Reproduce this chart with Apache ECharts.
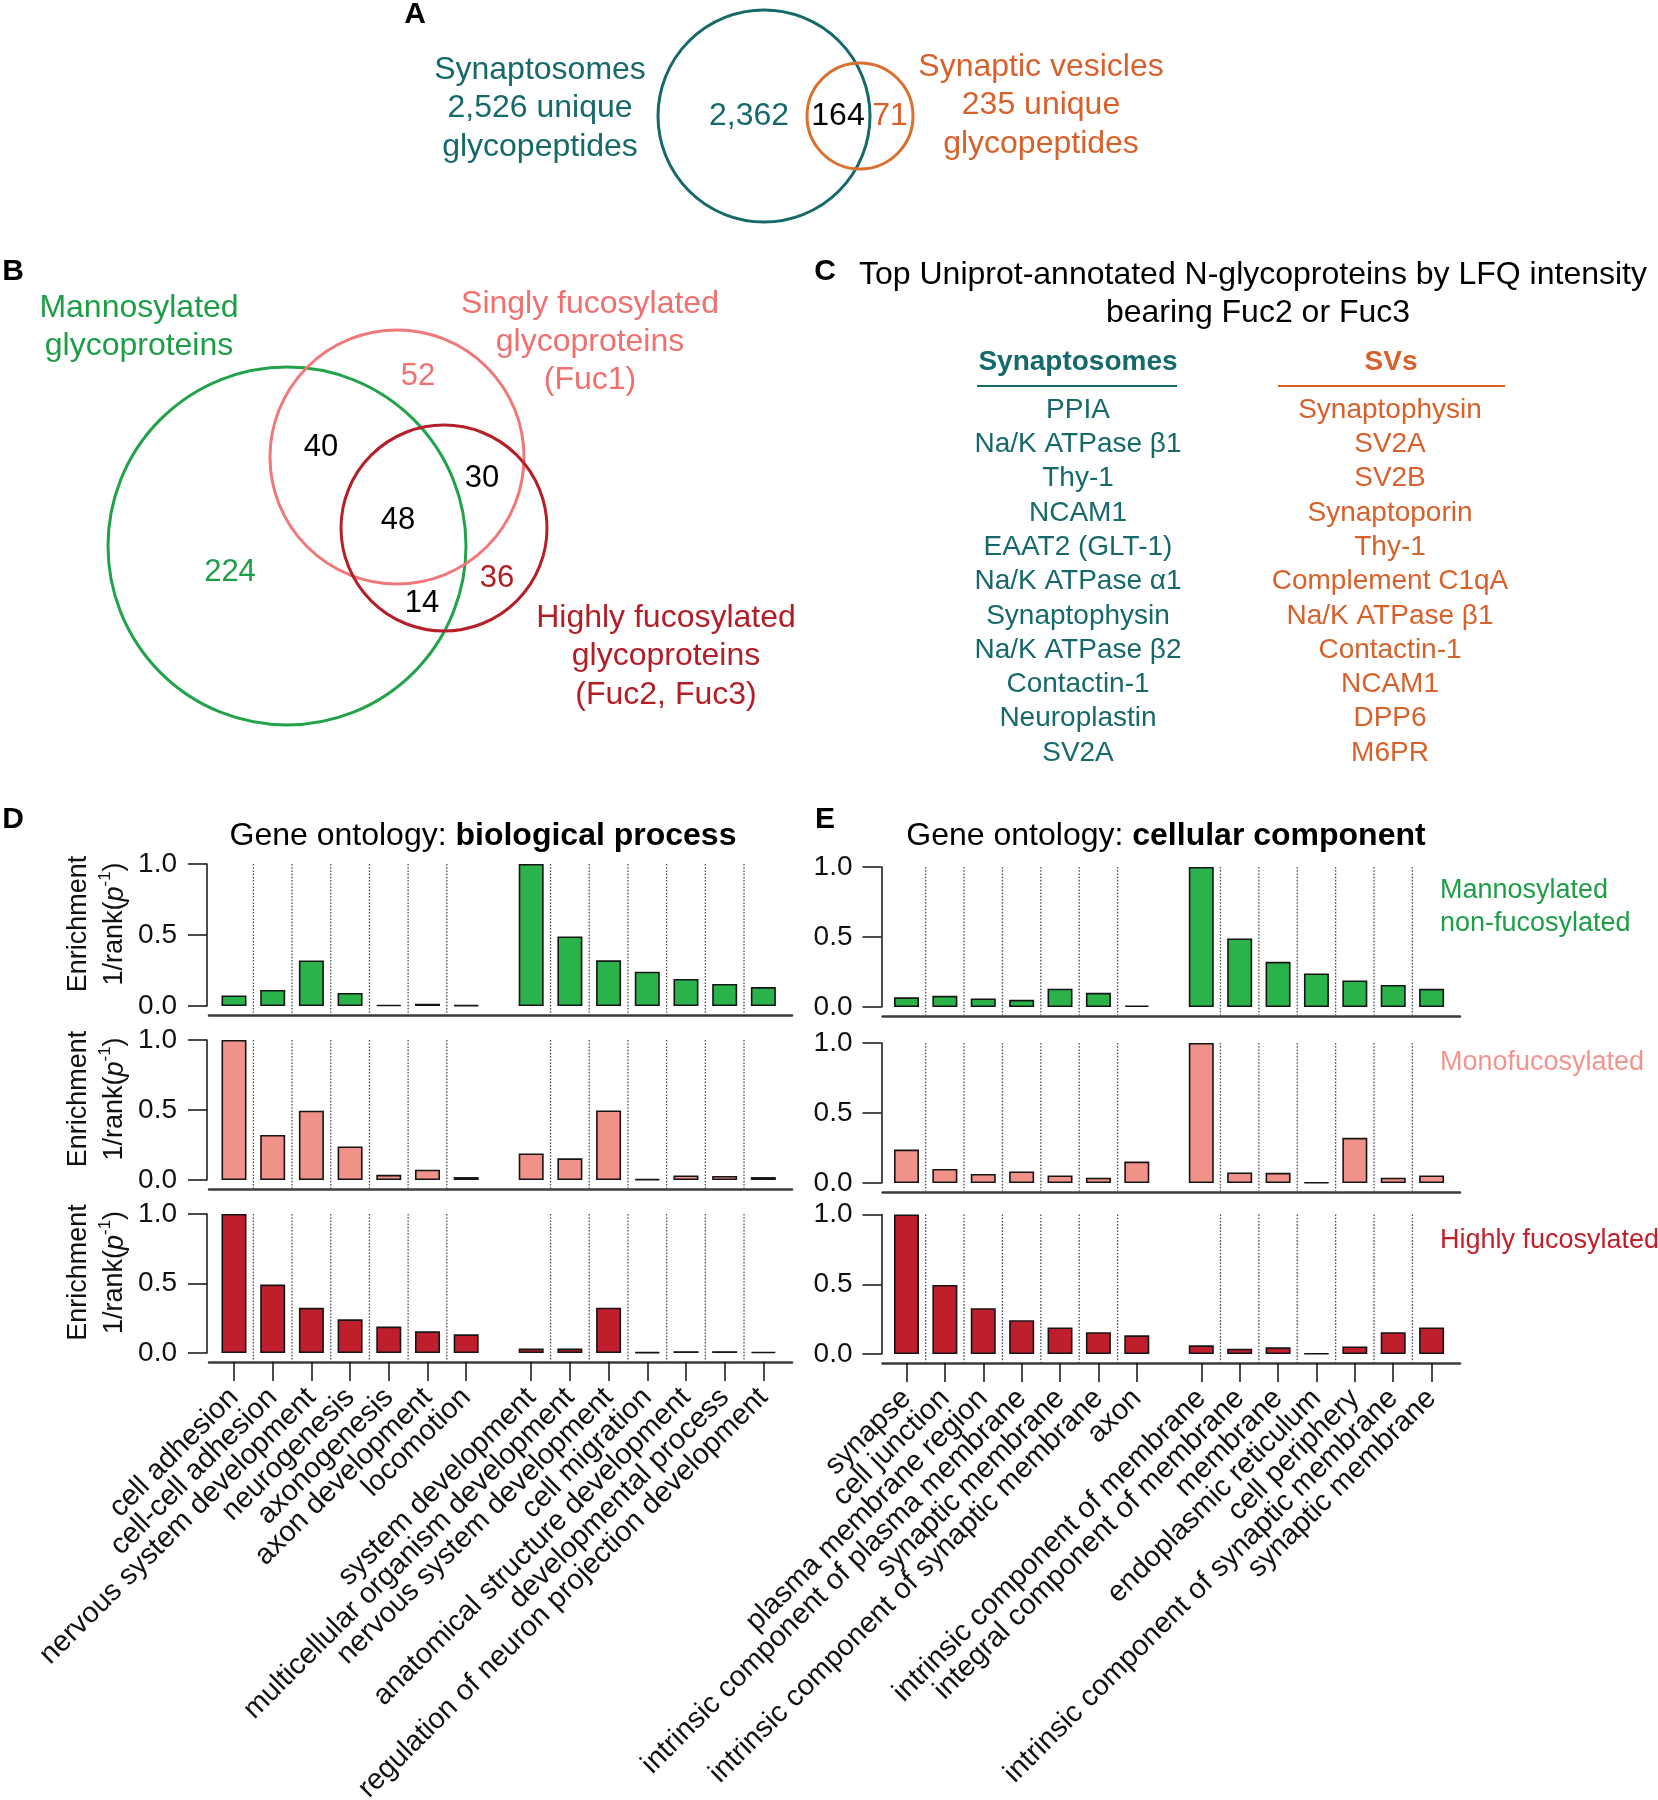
<!DOCTYPE html>
<html><head><meta charset="utf-8">
<script src="https://cdn.jsdelivr.net/npm/echarts@6/dist/echarts.min.js"></script>
<style>html,body{margin:0;padding:0;background:#fff}#c{width:1658px;height:1800px}</style>
</head><body><div id="c"></div>
<script>
// ---------------- DATA ----------------
const vennASetNames = ['Synaptosomes', 'Synaptic vesicles'];
const vennASetTotals = [2526, 235];
const vennARegionCounts = [2362, 164, 71]; // syn only, both, SV only

const vennBSetNames = [['Mannosylated', 'glycoproteins'], ['Singly fucosylated', 'glycoproteins', '(Fuc1)'], ['Highly fucosylated', 'glycoproteins', '(Fuc2, Fuc3)']];
// regions: M only, F1 only, F23 only, M∩F1, F1∩F23, M∩F1∩F23, M∩F23
const vennBRegionCounts = [224, 52, 36, 40, 30, 48, 14];

const panelCTitle = ['Top Uniprot-annotated N-glycoproteins by LFQ intensity', 'bearing Fuc2 or Fuc3'];
const synaptosomeProteins = ['PPIA', 'Na/K ATPase \u03b21', 'Thy-1', 'NCAM1', 'EAAT2 (GLT-1)', 'Na/K ATPase \u03b11', 'Synaptophysin', 'Na/K ATPase \u03b22', 'Contactin-1', 'Neuroplastin', 'SV2A'];
const svProteins = ['Synaptophysin', 'SV2A', 'SV2B', 'Synaptoporin', 'Thy-1', 'Complement C1qA', 'Na/K ATPase \u03b21', 'Contactin-1', 'NCAM1', 'DPP6', 'M6PR'];

const groupSizes = [7, 7];
const bpCategories = ['cell adhesion', 'cell-cell adhesion', 'nervous system development', 'neurogenesis', 'axonogenesis', 'axon development', 'locomotion',
  'system development', 'multicellular organism development', 'nervous system development', 'cell migration', 'anatomical structure development', 'developmental process', 'regulation of neuron projection development'];
const bpMannosylated = [0.074, 0.113, 0.321, 0.092, 0.006, 0.016, 0.005, 1.0, 0.49, 0.322, 0.242, 0.19, 0.155, 0.133];
const bpMonofucosylated = [1.0, 0.322, 0.495, 0.24, 0.037, 0.074, 0.021, 0.19, 0.155, 0.497, 0.005, 0.032, 0.029, 0.021];
const bpHighlyFucosylated = [1.0, 0.492, 0.325, 0.242, 0.19, 0.156, 0.134, 0.032, 0.032, 0.326, 0.005, 0.013, 0.013, 0.008];

const ccCategories = ['synapse', 'cell junction', 'plasma membrane region', 'intrinsic component of plasma membrane', 'synaptic membrane', 'intrinsic component of synaptic membrane', 'axon',
  'intrinsic component of membrane', 'integral component of membrane', 'membrane', 'endoplasmic reticulum', 'cell periphery', 'intrinsic component of synaptic membrane', 'synaptic membrane'];
const ccMannosylated = [0.069, 0.08, 0.061, 0.051, 0.131, 0.101, 0.011, 1.0, 0.49, 0.323, 0.24, 0.19, 0.157, 0.13];
const ccMonofucosylated = [0.239, 0.1, 0.065, 0.083, 0.054, 0.038, 0.153, 1.0, 0.075, 0.073, 0.004, 0.323, 0.038, 0.054];
const ccHighlyFucosylated = [1.0, 0.495, 0.328, 0.242, 0.19, 0.156, 0.134, 0.062, 0.038, 0.048, 0.003, 0.054, 0.156, 0.19];

const rowNames = [['Mannosylated', 'non-fucosylated'], ['Monofucosylated'], ['Highly fucosylated']];
const yTickValues = [0, 0.5, 1.0];

// ---------------- STYLE / LAYOUT ----------------
const FONT = '"Liberation Sans", Arial, Helvetica, sans-serif';
const TEAL = '#15696a', ORANGE = '#d8602b', ORANGE_C = '#d9702e';
const GREEN = '#1d9e46', PINK = '#f07070', DARKRED = '#b31d26';
const BAR_COLORS = ['#2bb34b', '#f0918a', '#bf1f2c'];
const ROWNAME_COLORS = ['#1d9e46', '#f2958f', '#c21f2a'];
const GAP = 0.68;

function positions() {
  const p = []; let off = 0, k = 0;
  groupSizes.forEach(n => { for (let i = 0; i < n; i++) { p.push(k + off); k++; } off += GAP; });
  return p;
}
const POS = positions();
const POS_EVEN = POS.filter((p, i) => i % 2 === 0);
const POS_ODD = POS.filter((p, i) => i % 2 === 1);
function boundaries() {
  const b = []; let k = 0;
  groupSizes.forEach(n => { for (let i = 0; i < n - 1; i++) b.push((POS[k + i] + POS[k + i + 1]) / 2); k += n; });
  return b;
}
const BOUNDS = boundaries();

const panels = {
  D: { left: 209, width: 583, xmin: -0.646, xmax: 14.42, tops: [864, 1040, 1214], heights: [142, 140, 139], yOffset: 2, labelMargin: 30, cats: bpCategories,
       rows: [bpMannosylated, bpMonofucosylated, bpHighlyFucosylated], yName: true },
  E: { left: 882.5, width: 577.5, xmin: -0.625, xmax: 14.42, tops: [867, 1043, 1214.5], heights: [140, 140, 139.5], yOffset: 1, labelMargin: 29, cats: ccCategories,
       rows: [ccMannosylated, ccMonofucosylated, ccHighlyFucosylated], yName: false }
};

const grids = [], xAxes = [], yAxes = [], series = [];
const X_OFF = 9;
function catLabel(P, v) { const i = POS.findIndex(p => Math.abs(p - v) < 1e-6); return i >= 0 ? P.cats[i] : ''; }
function labelOpts(P, values) {
  return {
    show: true, customValues: values, rotate: 45, margin: 31, fontSize: 29, color: '#111', fontFamily: FONT,
    showMinLabel: true, showMaxLabel: true, hideOverlap: false, formatter: v => catLabel(P, v)
  };
}
Object.keys(panels).forEach(key => {
  const P = panels[key];
  P.rows.forEach((vals, r) => {
    const gi = grids.length;
    const last = r === P.rows.length - 1;
    grids.push({ left: P.left, top: P.tops[r], width: P.width, height: P.heights[r], outerBoundsMode: 'none', containLabel: false });
    const xi = xAxes.length;
    xAxes.push({
      type: 'value', gridIndex: gi, position: 'bottom', min: P.xmin, max: P.xmax, offset: X_OFF,
      axisLine: { show: true, onZero: false, lineStyle: { color: '#3c3c3c', width: 2.5 } },
      axisTick: last ? { show: true, customValues: POS, length: 19, lineStyle: { color: '#111', width: 1.5 } } : { show: false },
      axisLabel: last ? labelOpts(P, POS_EVEN) : { show: false },
      splitLine: { show: false }
    });
    if (last) {
      // second label layer (odd categories) on the same baseline
      xAxes.push({
        type: 'value', gridIndex: gi, position: 'bottom', min: P.xmin, max: P.xmax, offset: X_OFF,
        axisLine: { show: false }, axisTick: { show: false },
        axisLabel: labelOpts(P, POS_ODD), splitLine: { show: false }
      });
    }
    const yi = yAxes.length;
    const ya = {
      type: 'value', gridIndex: gi, min: 0, max: 1, interval: 0.5, offset: P.yOffset,
      axisLine: { show: true, onZero: false, lineStyle: { color: '#111', width: 1.5 } },
      axisTick: { show: true, length: 19, lineStyle: { color: '#111', width: 1.5 } },
      axisLabel: { margin: P.labelMargin, fontSize: 28, color: '#111', fontFamily: FONT, formatter: v => v.toFixed(1), showMinLabel: true, showMaxLabel: true },
      splitLine: { show: false }
    };
    if (P.yName) {
      ya.name = '{a|Enrichment}\n{a|1/rank(}{i|p}{s|-1}{a|)}';
      ya.nameLocation = 'middle';
      ya.nameRotate = 90;
      ya.nameGap = 74;
      ya.nameTextStyle = {
        padding: [0, 0, 0, 22],
        rich: {
          a: { fontSize: 27, fontFamily: FONT, color: '#111', lineHeight: 36 },
          i: { fontSize: 27, fontFamily: FONT, color: '#111', fontStyle: 'italic', lineHeight: 36 },
          s: { fontSize: 17, fontFamily: FONT, color: '#111', verticalAlign: 'top', lineHeight: 22 }
        }
      };
    }
    yAxes.push(ya);
    const lowY = -X_OFF / P.heights[r];
    // dotted separators between neighbouring categories (drawn as a broken line series)
    const sepData = [];
    BOUNDS.forEach(b => { sepData.push([b, 1], [b, lowY], [b, '-']); });
    series.push({
      type: 'line', xAxisIndex: xi, yAxisIndex: yi, data: sepData, clip: false, silent: true,
      symbol: 'none', connectNulls: false, z: 1,
      lineStyle: { color: '#505050', width: 1.3, type: [1.6, 1.6] }
    });
    series.push({
      type: 'bar', xAxisIndex: xi, yAxisIndex: yi, barWidth: 25, z: 2,
      data: vals.map((v, i) => [POS[i], v]),
      itemStyle: { color: BAR_COLORS[r], borderColor: '#151515', borderWidth: 1.6 }
    });
  });
});

// ---------------- GRAPHICS (Venn diagrams, text panels) ----------------
const g = [];
function txt(x, y, text, size, color, opts = {}) {
  g.push({
    type: 'text', x, y, silent: true,
    style: Object.assign({
      text, fill: color, fontSize: size, fontFamily: FONT, fontWeight: opts.bold ? 'bold' : 'normal',
      align: opts.align || 'center', verticalAlign: 'middle', textAlign: opts.align || 'center', textVerticalAlign: 'middle'
    }, opts.rich ? { rich: opts.rich } : {})
  });
}
function circle(cx, cy, r, color, w) {
  g.push({ type: 'circle', silent: true, shape: { cx, cy, r }, style: { fill: 'none', stroke: color, lineWidth: w } });
}
function fmt(n) { return n.toLocaleString('en-US'); }

// Panel letters
txt(415, 15, 'A', 30, '#000', { bold: true });
txt(13, 272, 'B', 30, '#000', { bold: true });
txt(825, 272, 'C', 30, '#000', { bold: true });
txt(13, 820, 'D', 30, '#000', { bold: true });
txt(825, 820, 'E', 30, '#000', { bold: true });

// Panel A
circle(764, 116, 106, TEAL, 3);
circle(860, 116, 53, ORANGE_C, 3);
[vennASetNames[0], fmt(vennASetTotals[0]) + ' unique', 'glycopeptides'].forEach((t, i) => txt(540, 70 + i * 38.5, t, 32, TEAL));
[vennASetNames[1], fmt(vennASetTotals[1]) + ' unique', 'glycopeptides'].forEach((t, i) => txt(1041, 67 + i * 38.5, t, 32, ORANGE));
txt(749, 116, fmt(vennARegionCounts[0]), 32, TEAL);
txt(838, 116, fmt(vennARegionCounts[1]), 32, '#000');
txt(890, 116, fmt(vennARegionCounts[2]), 32, ORANGE);

// Panel B
circle(287, 546, 179, '#22a34a', 3);
circle(397, 457, 127, '#f07878', 3);
circle(444, 528, 103, '#b52028', 3);
vennBSetNames[0].forEach((t, i) => txt(139, 308 + i * 38, t, 32, GREEN));
vennBSetNames[1].forEach((t, i) => txt(590, 304 + i * 38, t, 32, PINK));
vennBSetNames[2].forEach((t, i) => txt(666, 618 + i * 38.5, t, 32, DARKRED));
const bPos = [[230, 572, GREEN], [418, 376, PINK], [497, 578, DARKRED], [321, 447, '#000'], [482, 478, '#000'], [398, 520, '#000'], [422, 603, '#000']];
vennBRegionCounts.forEach((c, i) => txt(bPos[i][0], bPos[i][1], String(c), 31, bPos[i][2]));

// Panel C
txt(1253, 275, panelCTitle[0], 32, '#000');
txt(1258, 313, panelCTitle[1], 32, '#000');
txt(1078, 362, 'Synaptosomes', 28, TEAL, { bold: true });
txt(1391, 362, 'SVs', 28, ORANGE, { bold: true });
g.push({ type: 'line', silent: true, shape: { x1: 977, y1: 386, x2: 1177, y2: 386 }, style: { stroke: TEAL, lineWidth: 2 } });
g.push({ type: 'line', silent: true, shape: { x1: 1278, y1: 386, x2: 1505, y2: 386 }, style: { stroke: ORANGE, lineWidth: 2 } });
synaptosomeProteins.forEach((t, i) => txt(1078, 410 + i * 34.3, t, 28, TEAL));
svProteins.forEach((t, i) => txt(1390, 410 + i * 34.3, t, 28, ORANGE));

// Panel D/E titles
const titleRich = { a: { fontSize: 32, fontFamily: FONT, color: '#000' }, b: { fontSize: 32, fontFamily: FONT, color: '#000', fontWeight: 'bold' } };
txt(483, 836, '{a|Gene ontology: }{b|biological process}', 32, '#000', { rich: titleRich });
txt(1166, 836, '{a|Gene ontology: }{b|cellular component}', 32, '#000', { rich: titleRich });

// Row names in E
const rowNameY = [[891, 924], [1063], [1241]];
rowNames.forEach((lines, r) => lines.forEach((t, i) => txt(1440, rowNameY[r][i], t, 27, ROWNAME_COLORS[r], { align: 'left' })));

// ---------------- CHART ----------------
const chart = echarts.init(document.getElementById('c'), null, { renderer: 'canvas', width: 1658, height: 1800 });
chart.setOption({
  animation: false,
  backgroundColor: '#fff',
  textStyle: { fontFamily: FONT },
  grid: grids, xAxis: xAxes, yAxis: yAxes, series,
  graphic: { elements: g }
});
</script></body></html>
